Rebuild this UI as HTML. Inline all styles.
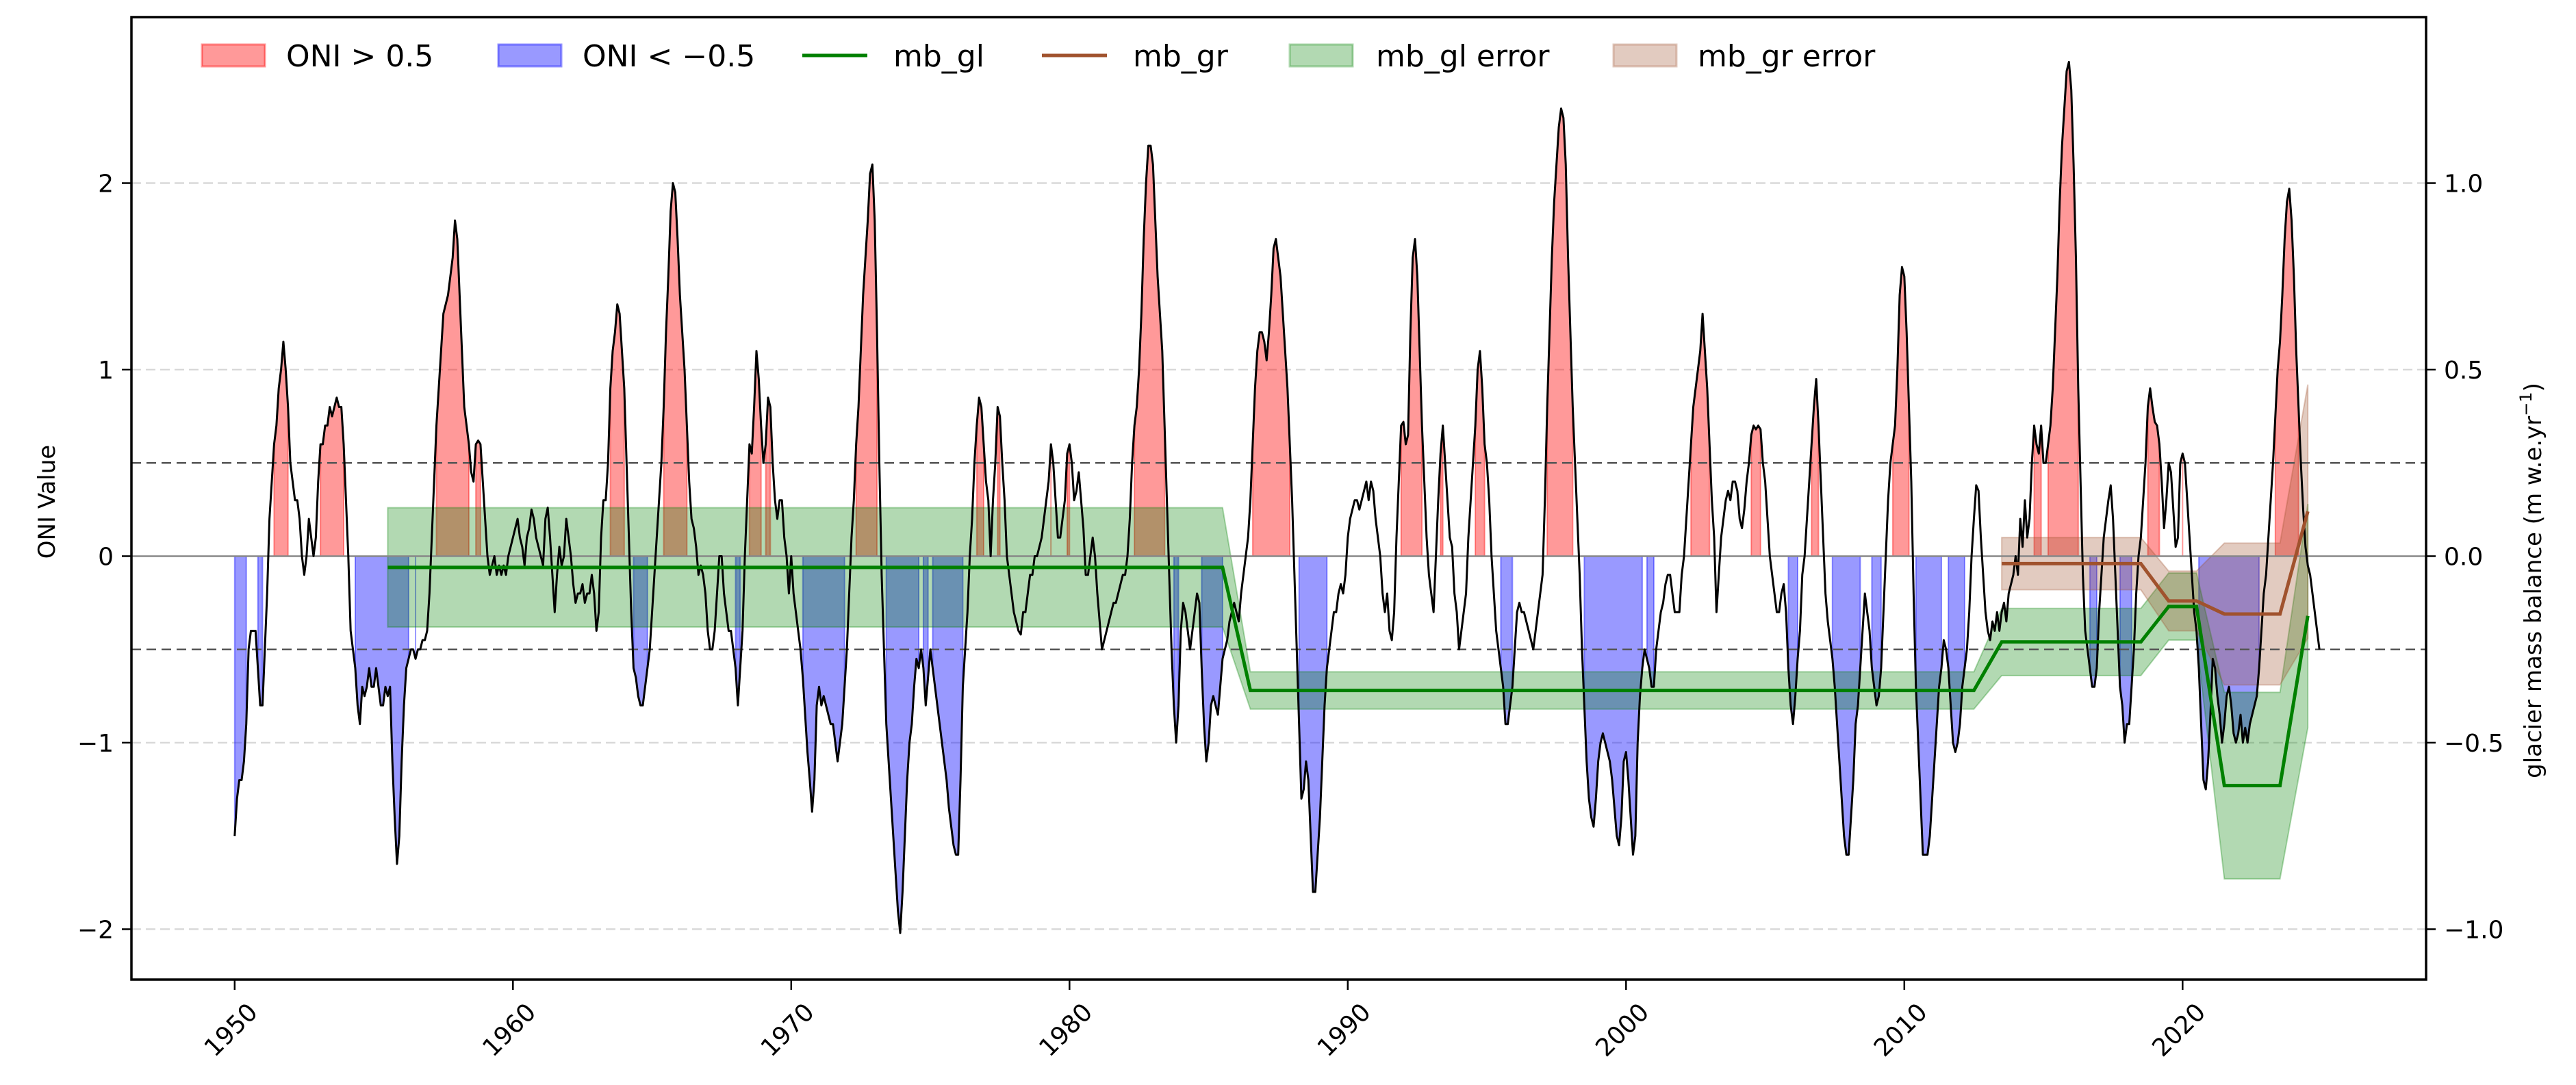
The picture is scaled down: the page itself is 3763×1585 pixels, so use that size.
<!DOCTYPE html>
<html><head><meta charset="utf-8"><style>
html,body{margin:0;padding:0;background:#fff;}
svg{display:block;font-family:"DejaVu Sans","Liberation Sans",sans-serif;}
</style></head><body>
<svg id="chart" width="3763" height="1585" viewBox="0 0 3763 1585" xmlns="http://www.w3.org/2000/svg">
<rect width="3763" height="1585" fill="#fff"/>
<defs><clipPath id="clip"><rect x="192" y="25" width="3352" height="1406"/></clipPath></defs>
<g id="grid"></g>
<g id="plot" clip-path="url(#clip)"></g>
<g id="axes"></g>
<g id="legend"></g>
</svg>
<script>
// ---- data ----
const oniStartYear = 1950;
const oniValues = [
-1.5,-1.3,-1.2,-1.2,-1.1,-0.9,-0.5,-0.4,-0.4,-0.4,-0.6,-0.8,
-0.8,-0.5,-0.2,0.2,0.4,0.6,0.7,0.9,1.0,1.15,1.0,0.8,
0.5,0.4,0.3,0.3,0.2,0.0,-0.1,0.0,0.2,0.1,0.0,0.1,
0.4,0.6,0.6,0.7,0.7,0.8,0.75,0.8,0.85,0.8,0.8,0.6,
0.3,0.0,-0.4,-0.5,-0.6,-0.8,-0.9,-0.7,-0.75,-0.7,-0.6,-0.7,
-0.7,-0.6,-0.7,-0.8,-0.8,-0.7,-0.75,-0.7,-1.1,-1.4,-1.65,-1.5,
-1.1,-0.8,-0.6,-0.55,-0.5,-0.5,-0.55,-0.5,-0.5,-0.45,-0.45,-0.4,
-0.2,0.1,0.4,0.7,0.9,1.1,1.3,1.35,1.4,1.5,1.6,1.8,
1.7,1.4,1.1,0.8,0.7,0.6,0.45,0.4,0.6,0.62,0.6,0.4,
0.2,0.0,-0.1,-0.05,0.0,-0.1,-0.05,-0.1,-0.05,-0.1,0.0,0.05,
0.1,0.15,0.2,0.1,0.05,-0.05,0.1,0.15,0.25,0.2,0.1,0.05,
0.0,-0.05,0.2,0.26,0.1,-0.1,-0.3,-0.1,0.05,-0.05,0.0,0.2,
0.1,0.0,-0.15,-0.25,-0.2,-0.2,-0.15,-0.25,-0.2,-0.2,-0.1,-0.2,
-0.4,-0.3,0.1,0.3,0.3,0.5,0.9,1.1,1.2,1.35,1.3,1.1,
0.9,0.5,0.1,-0.3,-0.6,-0.65,-0.75,-0.8,-0.8,-0.7,-0.6,-0.5,
-0.3,-0.1,0.1,0.3,0.5,0.8,1.2,1.5,1.85,2.0,1.95,1.7,
1.4,1.2,1.0,0.7,0.4,0.2,0.15,0.05,-0.1,-0.05,-0.1,-0.2,
-0.4,-0.5,-0.5,-0.4,-0.2,0.0,0.0,-0.2,-0.3,-0.4,-0.4,-0.5,
-0.6,-0.8,-0.6,-0.4,0.0,0.3,0.6,0.55,0.8,1.1,0.95,0.7,
0.5,0.6,0.85,0.8,0.5,0.3,0.2,0.3,0.3,0.1,0.0,-0.2,
0.0,-0.2,-0.3,-0.4,-0.5,-0.65,-0.85,-1.05,-1.2,-1.37,-1.2,-0.8,
-0.7,-0.8,-0.75,-0.8,-0.85,-0.9,-0.9,-1.0,-1.1,-1.0,-0.9,-0.7,
-0.5,-0.2,0.1,0.3,0.6,0.8,1.1,1.4,1.6,1.8,2.05,2.1,
1.8,1.2,0.5,-0.1,-0.5,-0.9,-1.1,-1.3,-1.5,-1.7,-1.9,-2.02,
-1.8,-1.5,-1.2,-1.0,-0.9,-0.7,-0.55,-0.6,-0.5,-0.6,-0.8,-0.65,
-0.5,-0.6,-0.7,-0.8,-0.9,-1.0,-1.1,-1.2,-1.35,-1.45,-1.55,-1.6,
-1.6,-1.2,-0.7,-0.5,-0.3,0.0,0.2,0.5,0.7,0.85,0.8,0.6,
0.4,0.3,0.0,0.3,0.5,0.8,0.75,0.5,0.3,0.0,-0.1,-0.2,
-0.3,-0.35,-0.4,-0.42,-0.3,-0.3,-0.2,-0.1,-0.1,0.0,0.0,0.05,
0.1,0.2,0.3,0.4,0.6,0.5,0.3,0.1,0.1,0.2,0.3,0.55,
0.6,0.5,0.3,0.35,0.45,0.3,0.15,-0.1,-0.1,0.0,0.1,0.0,
-0.2,-0.35,-0.5,-0.45,-0.4,-0.35,-0.3,-0.25,-0.25,-0.2,-0.15,-0.1,
-0.1,0.0,0.2,0.5,0.7,0.8,1.0,1.3,1.7,2.0,2.2,2.2,
2.1,1.8,1.5,1.3,1.1,0.7,0.3,-0.1,-0.5,-0.8,-1.0,-0.8,
-0.4,-0.25,-0.3,-0.4,-0.5,-0.4,-0.3,-0.2,-0.25,-0.6,-0.9,-1.1,
-1.0,-0.8,-0.75,-0.8,-0.85,-0.7,-0.55,-0.5,-0.45,-0.35,-0.3,-0.25,
-0.3,-0.35,-0.2,-0.1,0.0,0.1,0.3,0.6,0.9,1.1,1.2,1.2,
1.15,1.05,1.2,1.4,1.65,1.7,1.6,1.5,1.3,1.1,0.9,0.6,
0.3,-0.1,-0.5,-0.9,-1.3,-1.25,-1.1,-1.2,-1.5,-1.8,-1.8,-1.6,
-1.4,-1.1,-0.8,-0.6,-0.5,-0.4,-0.3,-0.3,-0.2,-0.15,-0.2,-0.1,
0.1,0.2,0.25,0.3,0.3,0.25,0.3,0.35,0.4,0.3,0.4,0.35,
0.2,0.1,0.0,-0.2,-0.3,-0.2,-0.4,-0.45,-0.3,0.1,0.4,0.7,
0.72,0.6,0.65,1.2,1.6,1.7,1.5,1.1,0.7,0.4,0.1,-0.1,
-0.2,-0.3,0.0,0.3,0.55,0.7,0.5,0.3,0.1,0.05,-0.2,-0.3,
-0.5,-0.4,-0.3,-0.2,0.1,0.3,0.5,0.7,1.0,1.1,0.9,0.6,
0.5,0.3,0.0,-0.2,-0.4,-0.5,-0.6,-0.7,-0.9,-0.9,-0.8,-0.7,
-0.5,-0.3,-0.25,-0.3,-0.3,-0.35,-0.4,-0.45,-0.5,-0.4,-0.3,-0.2,
-0.1,0.3,0.8,1.2,1.6,1.9,2.1,2.3,2.4,2.35,2.1,1.6,
1.2,0.8,0.5,0.2,-0.1,-0.5,-0.8,-1.1,-1.3,-1.4,-1.45,-1.3,
-1.1,-1.0,-0.95,-1.0,-1.05,-1.1,-1.2,-1.35,-1.5,-1.55,-1.4,-1.1,
-1.05,-1.2,-1.4,-1.6,-1.5,-1.0,-0.75,-0.6,-0.5,-0.55,-0.6,-0.7,
-0.7,-0.5,-0.4,-0.3,-0.25,-0.15,-0.1,-0.1,-0.2,-0.3,-0.3,-0.3,
-0.1,0.0,0.2,0.4,0.6,0.8,0.9,1.0,1.1,1.3,1.1,0.9,
0.6,0.3,0.1,-0.3,-0.1,0.1,0.2,0.3,0.35,0.3,0.4,0.4,
0.35,0.2,0.15,0.25,0.4,0.5,0.65,0.7,0.68,0.7,0.68,0.5,
0.4,0.2,0.0,-0.1,-0.2,-0.3,-0.3,-0.2,-0.15,-0.3,-0.6,-0.8,
-0.9,-0.75,-0.55,-0.4,-0.1,0.0,0.2,0.4,0.6,0.8,0.95,0.7,
0.4,0.1,-0.2,-0.35,-0.45,-0.55,-0.7,-0.9,-1.1,-1.3,-1.5,-1.6,
-1.6,-1.4,-1.2,-0.9,-0.8,-0.6,-0.4,-0.2,-0.3,-0.4,-0.6,-0.7,
-0.8,-0.75,-0.6,-0.3,0.0,0.3,0.5,0.6,0.7,1.0,1.4,1.55,
1.5,1.2,0.8,0.4,-0.2,-0.7,-1.0,-1.3,-1.6,-1.6,-1.6,-1.5,
-1.3,-1.1,-0.9,-0.7,-0.6,-0.45,-0.5,-0.6,-0.8,-1.0,-1.05,-1.0,
-0.9,-0.7,-0.6,-0.5,-0.3,0.0,0.2,0.38,0.35,0.1,-0.1,-0.3,
-0.4,-0.45,-0.35,-0.4,-0.3,-0.4,-0.3,-0.25,-0.35,-0.2,-0.15,-0.1,
0.0,-0.1,0.2,0.05,0.3,0.1,0.2,0.5,0.7,0.6,0.55,0.7,
0.5,0.5,0.6,0.7,0.9,1.2,1.5,1.9,2.2,2.4,2.6,2.65,
2.5,2.1,1.6,0.9,0.4,-0.1,-0.4,-0.5,-0.6,-0.7,-0.7,-0.6,
-0.3,-0.1,0.1,0.2,0.3,0.38,0.2,-0.1,-0.4,-0.7,-0.8,-1.0,
-0.9,-0.9,-0.7,-0.5,-0.2,0.0,0.1,0.3,0.5,0.8,0.9,0.8,
0.72,0.7,0.6,0.4,0.15,0.3,0.5,0.45,0.25,0.05,0.1,0.5,
0.55,0.5,0.3,0.1,-0.1,-0.3,-0.4,-0.6,-0.9,-1.2,-1.25,-1.1,
-0.85,-0.55,-0.6,-0.75,-0.85,-1.0,-0.9,-0.75,-0.7,-0.8,-0.95,-1.0,
-0.95,-0.85,-1.0,-0.92,-1.0,-0.9,-0.85,-0.8,-0.75,-0.6,-0.4,-0.2,
-0.1,0.1,0.3,0.5,0.75,1.0,1.15,1.4,1.7,1.9,1.97,1.8,
1.5,1.1,0.8,0.5,0.25,0.05,-0.05,-0.1,-0.2,-0.3,-0.4,-0.5
];
const glYears = [1955.5,1985.5,1986.5,2012.5,2013.5,2018.5,2019.5,2020.5,2021.5,2023.5,2024.5];
const glValues = [-0.03,-0.03,-0.36,-0.36,-0.23,-0.23,-0.135,-0.135,-0.615,-0.615,-0.16];
const glErrors = [0.16,0.16,0.05,0.05,0.09,0.09,0.09,0.09,0.25,0.25,0.3];
const grYears = [2013.5,2018.5,2019.5,2020.5,2021.5,2023.5,2024.5];
const grValues = [-0.02,-0.02,-0.12,-0.12,-0.155,-0.155,0.12];
const grErrors = [0.07,0.07,0.08,0.08,0.19,0.19,0.34];
const xTicks = [1950,1960,1970,1980,1990,2000,2010,2020];
const yTicksLeft = [-2,-1,0,1,2];
const yTicksRight = [-1.0,-0.5,0.0,0.5,1.0];
const yTickLabelsLeft = ["\u22122","\u22121","0","1","2"];
const yTickLabelsRight = ["\u22121.0","\u22120.5","0.0","0.5","1.0"];

// ---- scales ----
const L=192,R=3544,T=25,B=1431;
const X0=1946.29,X1=2028.75,Y0=-2.27,Y1=2.89;
const sx=v=>L+(v-X0)/(X1-X0)*(R-L);
const sy=v=>B-(v-Y0)/(Y1-Y0)*(B-T);
const sr=v=>sy(v*2); // right axis: half scale
const NS="http://www.w3.org/2000/svg";
function mk(tag,attrs,parent){const e=document.createElementNS(NS,tag);for(const k in attrs)e.setAttribute(k,attrs[k]);parent.appendChild(e);return e;}
const grid=document.getElementById('grid'),plot=document.getElementById('plot'),axes=document.getElementById('axes'),legend=document.getElementById('legend');

// gridlines
yTicksLeft.forEach(t=>{if(t===0)return;const g=mk('line',{x1:L,x2:R,y1:sy(t),y2:sy(t),stroke:'#d9d9d9','stroke-width':2.5,'stroke-dasharray':'14 7'},grid);

});

const oniX=oniValues.map((v,i)=>oniStartYear+i/12);
// fills
function fillWhere(cond,color,name){
  let run=[];
  const flush=()=>{if(run.length>0){let d='M'+sx(oniX[run[0]])+','+sy(0);run.forEach(i=>d+='L'+sx(oniX[i])+','+sy(oniValues[i]));d+='L'+sx(oniX[run[run.length-1]])+','+sy(0)+'Z';
    const p=mk('path',{d:d,fill:color,'fill-opacity':0.4,stroke:color,'stroke-opacity':0.4,'stroke-width':2},plot);
    
    }run=[];};
  oniValues.forEach((v,i)=>{if(cond(v))run.push(i);else flush();});flush();
}
fillWhere(v=>v>0.5,'#ff0000','oni-positive-fill');
fillWhere(v=>v<-0.5,'#0000ff','oni-negative-fill');

// error bands
function band(xs,vs,es,color,name){
  let d='M'+xs.map((x,i)=>sx(x)+','+sr(vs[i]+es[i])).join('L');
  for(let i=xs.length-1;i>=0;i--)d+='L'+sx(xs[i])+','+sr(vs[i]-es[i]);d+='Z';
  const p=mk('path',{d:d,fill:color,'fill-opacity':0.3,stroke:color,'stroke-opacity':0.3,'stroke-width':2},plot);
  
  
}
band(glYears,glValues,glErrors,'#008000','mb-gl-error-band');
band(grYears,grValues,grErrors,'#a0522d','mb-gr-error-band');

// reference lines
[[0.5,'#555','14 8'],[-0.5,'#555','14 8']].forEach(r=>{const l=mk('line',{x1:L,x2:R,y1:sy(r[0]),y2:sy(r[0]),stroke:r[1],'stroke-width':2.5,'stroke-dasharray':r[2]},plot);

});
const zl=mk('line',{x1:L,x2:R,y1:sy(0),y2:sy(0),stroke:'#888','stroke-width':2.5},plot);



// oni line
const ol=mk('polyline',{points:oniX.map((x,i)=>sx(x)+','+sy(oniValues[i])).join(' '),fill:'none',stroke:'#000','stroke-width':3,'stroke-linejoin':'round'},plot);


// mb lines
const gl=mk('polyline',{points:glYears.map((x,i)=>sx(x)+','+sr(glValues[i])).join(' '),fill:'none',stroke:'#008000','stroke-width':5},plot);


const gr=mk('polyline',{points:grYears.map((x,i)=>sx(x)+','+sr(grValues[i])).join(' '),fill:'none',stroke:'#a0522d','stroke-width':5},plot);



// axes frame
const fr=mk('rect',{x:L,y:T,width:R-L,height:B-T,fill:'none',stroke:'#000','stroke-width':3.5},axes);


xTicks.forEach(t=>{const x=sx(t);
  const tk=mk('line',{x1:x,x2:x,y1:B,y2:B+15,stroke:'#000','stroke-width':2.5},axes);
  
  
  const tx=mk('text',{x:x-5,y:1505,'font-size':36,'text-anchor':'middle','dominant-baseline':'central',transform:'rotate(-45 '+(x-5)+' 1505)',fill:'#000'},axes);
  tx.textContent=t;
  
  });
yTicksLeft.forEach((t,i)=>{const y=sy(t);
  const tk=mk('line',{x1:L-14,x2:L,y1:y,y2:y,stroke:'#000','stroke-width':2.5},axes);
  
  
  const tx=mk('text',{x:L-26,y:y+13,'font-size':36,'text-anchor':'end',fill:'#000'},axes);
  tx.textContent=yTickLabelsLeft[i];
  
  });
yTicksRight.forEach((t,i)=>{const y=sr(t);
  const tk=mk('line',{x1:R,x2:R+14,y1:y,y2:y,stroke:'#000','stroke-width':2.5},axes);
  
  
  const tx=mk('text',{x:R+26,y:y+13,'font-size':36,'text-anchor':'start',fill:'#000'},axes);
  tx.textContent=yTickLabelsRight[i];
  
  });
</script>
<svg width="0" height="0" style="position:absolute"></svg>
<script>
(function(){
const NS="http://www.w3.org/2000/svg";
const svg=document.getElementById('chart');
function mk(tag,attrs,parent){const e=document.createElementNS(NS,tag);for(const k in attrs)e.setAttribute(k,attrs[k]);parent.appendChild(e);return e;}
const a=mk('text',{x:0,y:0,'font-size':34,'text-anchor':'middle',transform:'translate(80 733) rotate(-90)',fill:'#000'},svg);
a.textContent='ONI Value';


const b=mk('text',{x:0,y:0,'font-size':34,'text-anchor':'middle',transform:'translate(3712 848) rotate(-90)',fill:'#000'},svg);
b.innerHTML='glacier mass balance (m w.e.yr<tspan dy="-14" font-size="24">\u22121</tspan><tspan dy="14">)</tspan>';


const lg=document.getElementById('legend');
const entries=[
 {type:'patch',x:295,color:'#ff0000',op:0.4,label:'ONI > 0.5',tx:418,name:'legend-oni-positive'},
 {type:'patch',x:728,color:'#0000ff',op:0.4,label:'ONI < \u22120.5',tx:851,name:'legend-oni-negative'},
 {type:'line',x:1172,color:'#008000',label:'mb_gl',tx:1305,name:'legend-mb-gl'},
 {type:'line',x:1522,color:'#a0522d',label:'mb_gr',tx:1655,name:'legend-mb-gr'},
 {type:'patch',x:1884,color:'#008000',op:0.3,label:'mb_gl error',tx:2010,name:'legend-mb-gl-error'},
 {type:'patch',x:2357,color:'#a0522d',op:0.3,label:'mb_gr error',tx:2480,name:'legend-mb-gr-error'}];
entries.forEach(e=>{
  const g=mk('g',{},lg);
  
  
  if(e.type==='patch')mk('rect',{x:e.x,y:65,width:92,height:32,fill:e.color,'fill-opacity':e.op,stroke:e.color,'stroke-opacity':e.op,'stroke-width':3},g);
  else mk('line',{x1:e.x,x2:e.x+95,y1:81,y2:81,stroke:e.color,'stroke-width':5},g);
  const t=mk('text',{x:e.tx,y:97,'font-size':44,fill:'#000'},g);
  t.textContent=e.label;
});
})();
</script>
</body></html>
